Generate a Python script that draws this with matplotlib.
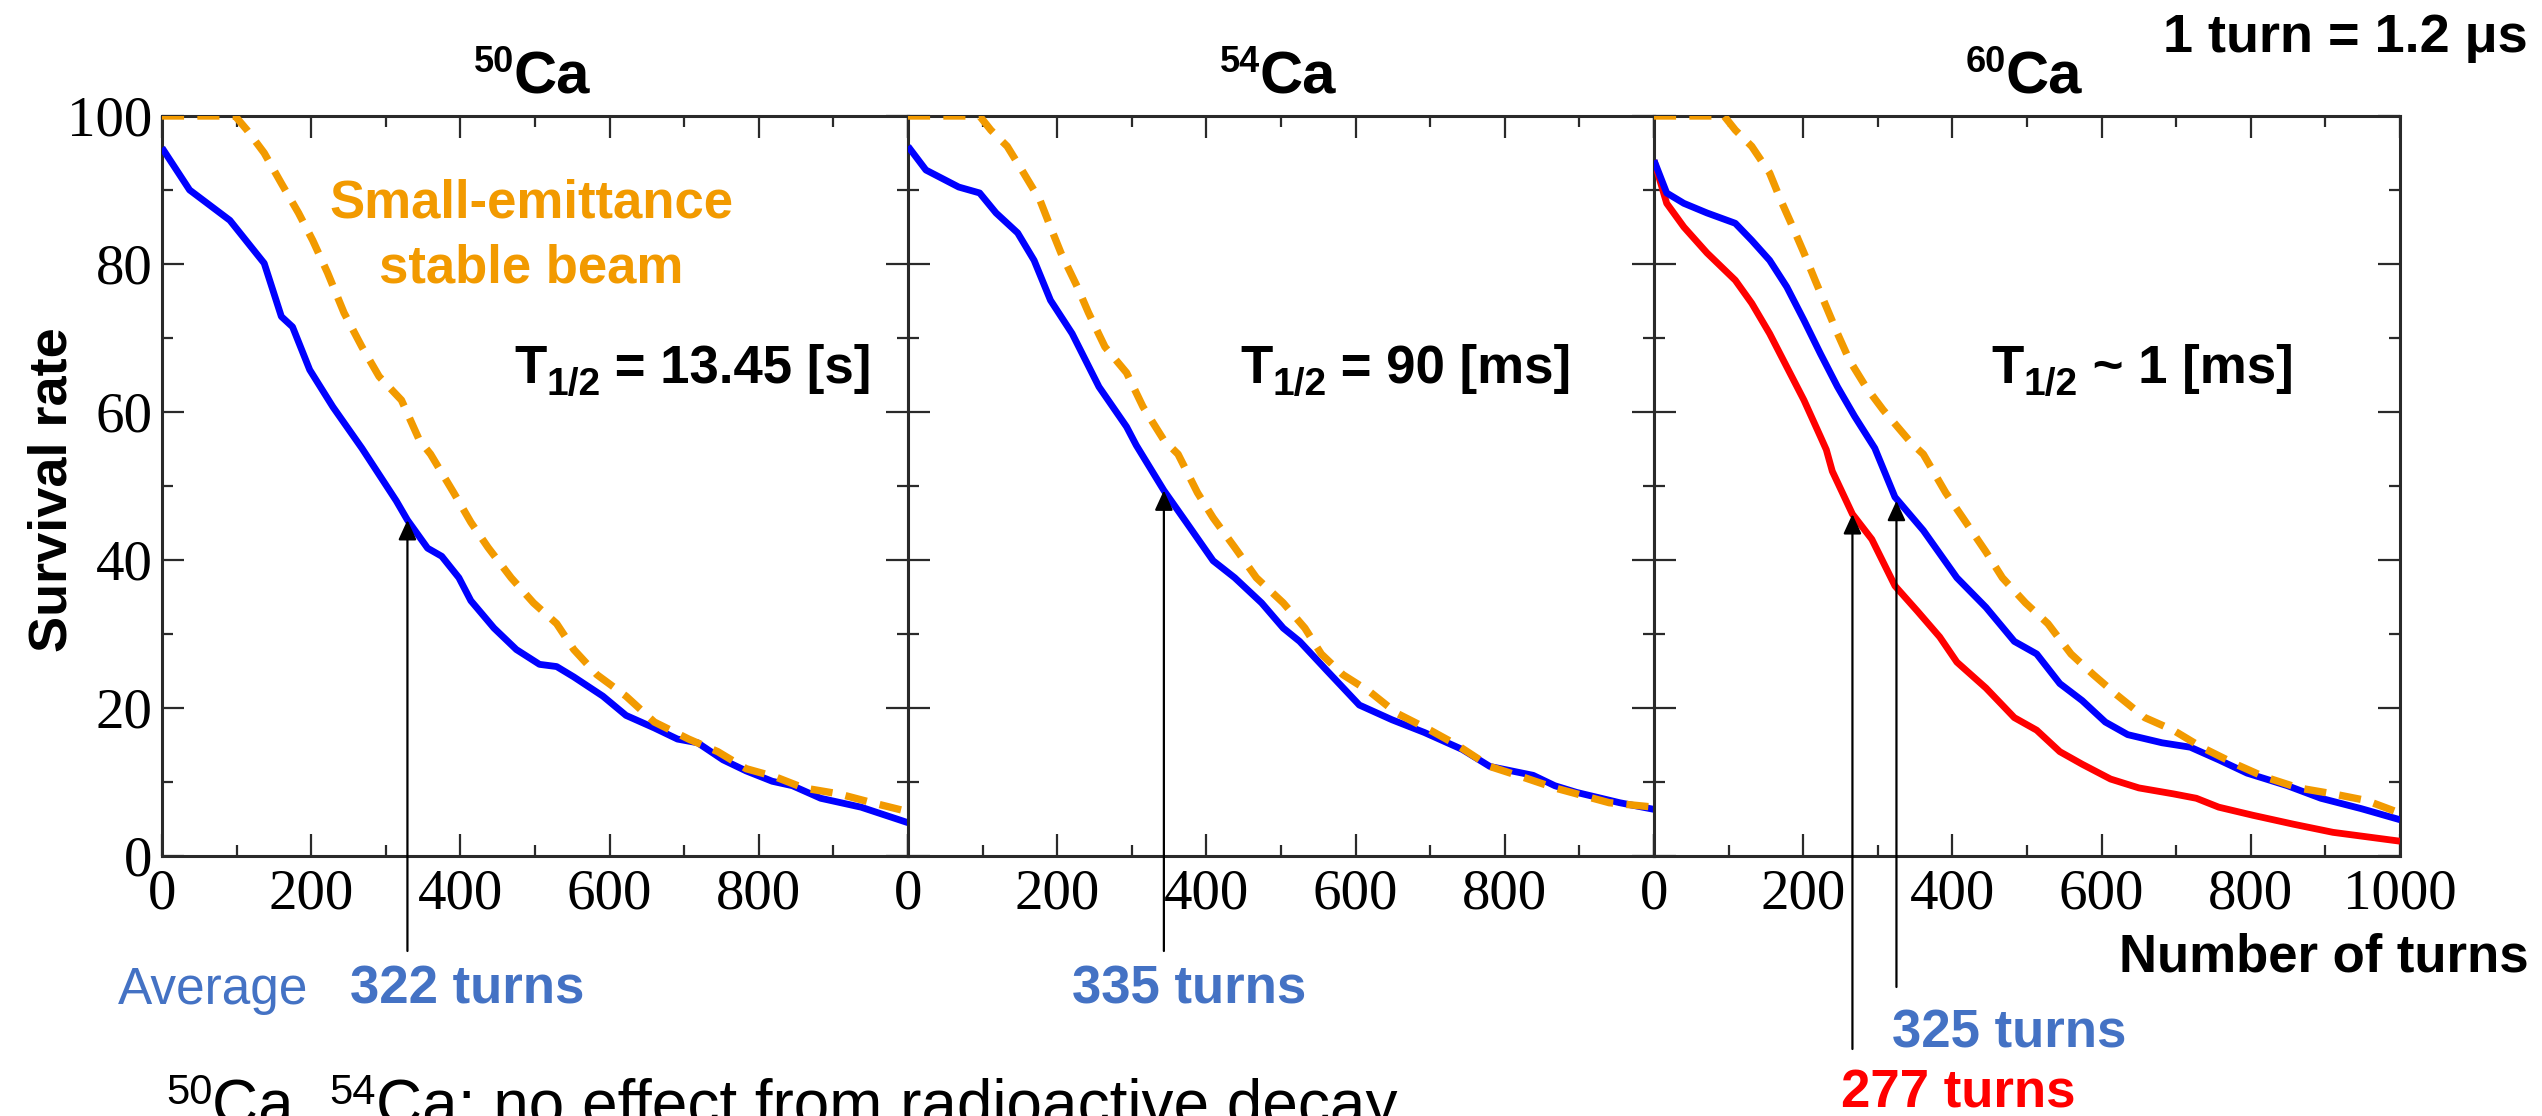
import matplotlib
matplotlib.use('Agg')
import matplotlib.pyplot as plt
from matplotlib.ticker import MultipleLocator
from matplotlib.transforms import blended_transform_factory

W, H = 2542, 1116

# ---------------- data ----------------
isotopes = ['50', '54', '60']
half_life_op = ['=', '=', '~']
half_life_val = ['13.45 [s]', '90 [ms]', '1 [ms]']

# 50Ca
ca50_avg_x = [0, 37, 91, 137, 160, 175, 198, 229, 268, 314, 329, 356, 375, 398, 414, 445, 475, 506,
              529, 552, 591, 622, 660, 691, 718, 752, 783, 818, 845, 883, 937, 1000]
ca50_avg_y = [95.7, 90, 85.9, 80.1, 72.9, 71.5, 65.7, 60.7, 55.1, 48, 45.4, 41.6, 40.5, 37.6, 34.5,
              30.8, 27.9, 25.9, 25.6, 24.2, 21.6, 19.0, 17.3, 15.8, 15.3, 13.0, 11.5, 10.1, 9.5, 7.8,
              6.6, 4.5]
ca50_stable_x = [0, 98, 114, 137, 160, 183, 202, 222, 244, 268, 291, 321, 345, 360, 391, 414, 437,
                 468, 498, 529, 552, 583, 622, 660, 706, 745, 783, 822, 860, 907, 952, 1000]
ca50_stable_y = [100, 100, 98.1, 95, 90.9, 86.9, 83.2, 78.8, 73.4, 68.8, 64.8, 61.6, 56.2, 54.3,
                 49.1, 45.1, 41.7, 37.6, 34.2, 31.4, 27.9, 24.5, 21.6, 18.1, 15.8, 14.1, 11.8, 10.7,
                 9.2, 8.4, 7.2, 6.0]

# 54Ca
ca54_avg_x = [0, 24, 68, 96, 118, 147, 169, 191, 220, 256, 293, 306, 343, 373, 409, 438, 474, 503,
              525, 562, 605, 649, 692, 743, 780, 838, 867, 896, 954, 1000]
ca54_avg_y = [95.9, 92.7, 90.4, 89.6, 86.9, 84.2, 80.5, 75.1, 70.6, 63.4, 58, 55.5, 49.4, 45.1,
              39.9, 37.6, 34.2, 30.8, 29, 25, 20.4, 18.4, 16.7, 14.4, 12.1, 10.9, 9.5, 8.6, 7.2, 6.3]
ca54_stable_x = [0, 96, 111, 133, 155, 177, 191, 205, 227, 242, 264, 293, 315, 343, 362, 388, 409,
                 438, 467, 503, 532, 554, 583, 619, 655, 700, 736, 780, 823, 867, 940, 1000]
ca54_stable_y = [100, 100, 98.1, 95.9, 92.3, 88.6, 85, 81.5, 76.9, 73.4, 68.8, 65.3, 60.7, 56.2,
                 54.3, 49.1, 45.7, 41.7, 37.6, 34.2, 30.8, 27.3, 24.5, 22.2, 19.3, 17, 15, 12.1,
                 10.7, 9.2, 7.2, 6.6]

# 60Ca
ca60_avg_x = [0, 17, 40, 71, 109, 131, 155, 178, 201, 223, 246, 269, 296, 323, 361, 406, 445, 483,
              513, 544, 574, 605, 635, 681, 719, 757, 795, 849, 894, 948, 1000]
ca60_avg_y = [94, 89.6, 88.2, 86.9, 85.5, 83.2, 80.5, 76.9, 72.4, 67.9, 63.4, 59.4, 55.1, 48.5, 44,
              37.6, 33.6, 29, 27.3, 23.3, 21, 18.1, 16.4, 15.3, 14.7, 13.0, 11.2, 9.5, 7.8, 6.4, 4.9]
ca60_decay_x = [0, 17, 40, 71, 109, 131, 155, 178, 201, 223, 231, 239, 266, 292, 323, 353, 383, 406,
                445, 483, 513, 544, 574, 612, 650, 696, 727, 757, 803, 857, 910, 1000]
ca60_decay_y = [94, 88.2, 85, 81.5, 77.8, 74.7, 70.6, 66.1, 61.6, 56.7, 54.9, 52, 46.2, 42.8, 36.5,
                33.1, 29.6, 26.2, 22.7, 18.7, 17, 14.1, 12.4, 10.4, 9.2, 8.4, 7.8, 6.6, 5.5, 4.3,
                3.2, 2.0]
ca60_stable_x = [0, 94, 109, 131, 155, 170, 186, 201, 216, 231, 246, 262, 284, 307, 345, 361, 391,
                 414, 445, 467, 498, 528, 559, 589, 620, 658, 696, 734, 780, 818, 864, 910, 955, 1000]
ca60_stable_y = [100, 100, 98.1, 95.9, 92.3, 88.6, 85, 81.5, 77.8, 74.2, 70.6, 67, 63.4, 60.3, 55.8,
                 54.3, 49.1, 45.7, 41.1, 37.6, 34.2, 31.4, 27.3, 24.5, 21.8, 18.7, 17, 14.7, 12.4,
                 10.7, 9.2, 8.4, 7.5, 5.8]

# arrows: (x, tip value) per panel
arrow_ca50 = [(329, 45.4)]
arrow_ca54 = [(343, 49.4)]
arrow_ca60 = [(266, 46.2), (325, 48.0)]
turn_labels = ['322 turns', '335 turns', '325 turns', '277 turns']

x_ticks = [0, 200, 400, 600, 800, 1000]

# ---------------- style ----------------
BLUE = '#0000FF'
ORANGE = '#F29A00'
RED = '#FF0000'
TXTBLUE = '#4472C4'
SPINE = '#2a2a2a'
SANS = 'Liberation Sans'
SERIF = 'Liberation Serif'

plt.rcParams['font.family'] = [SANS, 'DejaVu Sans']

fig = plt.figure(figsize=(W / 100, H / 100), dpi=100)
renderer = fig.canvas.get_renderer()


def fx(px):
    return px / W


def fy(py):
    return 1 - py / H


def runs(x, y, parts, color):
    """Draw consecutive text pieces; parts = (text, size, dy, weight)."""
    for s, size, dy, weight in parts:
        t = fig.text(fx(x), fy(y + dy), s, fontsize=size, fontweight=weight, color=color,
                     family=[SANS, 'DejaVu Sans'], ha='left', va='baseline')
        x += t.get_window_extent(renderer=renderer).width


panel_left = [162, 908, 1654]
pw, top, bottom = 746, 116, 856

series = [
    [(ca50_avg_x, ca50_avg_y, BLUE)],
    [(ca54_avg_x, ca54_avg_y, BLUE)],
    [(ca60_decay_x, ca60_decay_y, RED), (ca60_avg_x, ca60_avg_y, BLUE)],
]
stable = [(ca50_stable_x, ca50_stable_y), (ca54_stable_x, ca54_stable_y),
          (ca60_stable_x, ca60_stable_y)]
arrows = [arrow_ca50, arrow_ca54, arrow_ca60]
arrow_bottoms = [[951], [951], [1049, 987]]

for i in range(3):
    ax = fig.add_axes([fx(panel_left[i]), fy(bottom), pw / W, (bottom - top) / H])
    for xs, ys, c in series[i]:
        ax.plot(xs, ys, color=c, lw=4.9, solid_joinstyle='round', solid_capstyle='butt', zorder=3)
    sx, sy = stable[i]
    ax.plot(sx, sy, color=ORANGE, lw=5.3, linestyle=(0, (3.0, 1.8)), zorder=4)
    ax.set_xlim(0, 1000)
    ax.set_ylim(0, 100)
    labels = [str(v) for v in x_ticks]
    if i < 2:
        labels[-1] = ''
    ax.set_xticks(x_ticks, labels, fontfamily=SERIF)
    ax.xaxis.set_minor_locator(MultipleLocator(100))
    ax.yaxis.set_major_locator(MultipleLocator(20))
    ax.yaxis.set_minor_locator(MultipleLocator(10))
    if i == 0:
        for lbl in ax.get_yticklabels():
            lbl.set_fontfamily(SERIF)
    ax.tick_params(which='both', direction='in', top=True, right=True, color=SPINE,
                   labelsize=41, width=1.6)
    ax.tick_params(which='major', length=16)
    ax.tick_params(which='minor', length=8)
    ax.tick_params(axis='x', pad=9)
    ax.tick_params(axis='y', pad=7, labelleft=(i == 0))
    for sp in ax.spines.values():
        sp.set_color(SPINE)
        sp.set_linewidth(2.2)

    tr = blended_transform_factory(ax.transData, fig.transFigure)
    for (ax_x, tip), yb in zip(arrows[i], arrow_bottoms[i]):
        ax.annotate('', xy=(ax_x, tip), xycoords='data', xytext=(ax_x, fy(yb)), textcoords=tr,
                    annotation_clip=False,
                    arrowprops=dict(arrowstyle='-|>,head_length=12,head_width=5.5', mutation_scale=1,
                                    color='black', lw=1.6, shrinkA=0, shrinkB=0), zorder=6)

    # title (superscript mass number + Ca)
    cx = panel_left[i] + pw / 2 - 21
    fig.text(fx(cx), fy(93), 'Ca', fontsize=43, fontweight='bold', ha='left', va='baseline')
    fig.text(fx(cx), fy(72), isotopes[i], fontsize=26, fontweight='bold', ha='right',
             va='baseline')

    # half-life
    tx = panel_left[i] + [352, 332, 337][i]
    runs(tx, 383, [('T', 38, 0, 'bold'), ('1/2', 28, 12, 'bold'),
                   (' ' + half_life_op[i] + ' ' + half_life_val[i], 38, 0, 'bold')], 'black')

# y label
fig.text(fx(53), fy(490), 'Survival rate', rotation=90, fontsize=39, fontweight='bold',
         ha='center', va='center')

# small-emittance annotation
fig.text(fx(531), fy(218), 'Small-emittance', fontsize=38, fontweight='bold', color=ORANGE,
         ha='center', va='baseline')
fig.text(fx(531), fy(283), 'stable beam', fontsize=38, fontweight='bold', color=ORANGE,
         ha='center', va='baseline')

# top-right note
fig.text(fx(2163), fy(52), '1 turn = 1.2 \u03bcs', fontsize=39, fontweight='bold',
         ha='left', va='baseline')

# x label
fig.text(fx(2119), fy(972), 'Number of turns', fontsize=38, fontweight='bold',
         ha='left', va='baseline')

# turn labels
fig.text(fx(118), fy(1004), 'Average', fontsize=37, color=TXTBLUE, ha='left', va='baseline')
fig.text(fx(350), fy(1004), turn_labels[0], fontsize=38, fontweight='bold', color=TXTBLUE,
         ha='left', va='baseline')
fig.text(fx(1072), fy(1004), turn_labels[1], fontsize=38, fontweight='bold', color=TXTBLUE,
         ha='left', va='baseline')
fig.text(fx(1892), fy(1047), turn_labels[2], fontsize=38, fontweight='bold', color=TXTBLUE,
         ha='left', va='baseline')
fig.text(fx(1841), fy(1108), turn_labels[3], fontsize=38, fontweight='bold', color=RED,
         ha='left', va='baseline')

# bottom note (partly cut off by the figure edge, as in the original)
runs(166, 1125, [('50', 30, -21, 'normal'), ('Ca, ', 46, 0, 'normal'),
                 ('54', 30, -21, 'normal'),
                 ('Ca: no effect from radioactive decay', 46, 0, 'normal')], 'black')

fig.savefig('out.png', dpi=100)
